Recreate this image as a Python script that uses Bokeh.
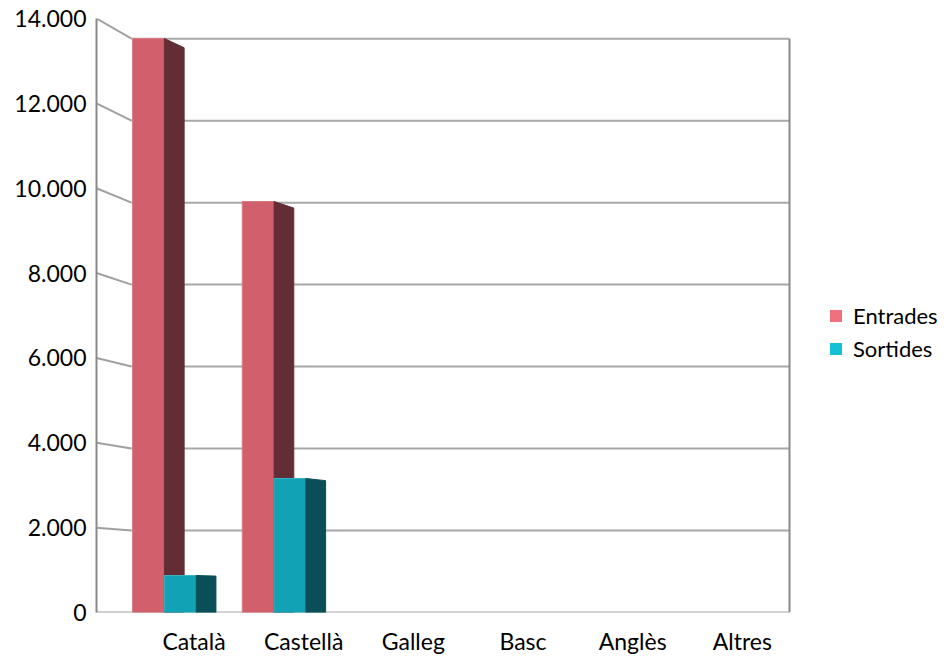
from bokeh.plotting import figure
from bokeh.models import Range1d, FixedTicker, Legend, LegendItem, ColumnDataSource, LinearAxis
from bokeh.embed import file_html
from bokeh.resources import INLINE

categories = ["Català", "Castellà", "Galleg", "Basc", "Anglès", "Altres"]
entrades = [13860, 9925, 0, 0, 0, 0]
sortides = [893, 3236, 0, 0, 0, 0]
y_ticks = [0, 2000, 4000, 6000, 8000, 10000, 12000, 14000]
y_tick_labels = ["0", "2.000", "4.000", "6.000", "8.000", "10.000", "12.000", "14.000"]

FONT = "Lato"
BACK = 0.966     # back-wall perspective factor
BARF = 0.976     # bar front-face perspective factor
SIDE = 0.984     # bar side depth factor
XL = -0.319
n = len(categories)

p = figure(width=950, height=658, output_backend="svg", toolbar_location=None,
           x_range=Range1d(XL, XL + 854 / 109.67), y_range=Range1d(0, 14000),
           min_border_left=96, min_border_top=18, min_border_bottom=46, min_border_right=0)
p.outline_line_color = None
p.grid.visible = False
p.xaxis.visible = False
p.yaxis.visible = False

ya = LinearAxis(ticker=FixedTicker(ticks=y_ticks),
                major_label_overrides={t: l for t, l in zip(y_ticks, y_tick_labels)})
ya.axis_line_color = "#8a8a8a"
ya.axis_line_width = 2
ya.major_tick_out = 0
ya.major_tick_in = 0
ya.minor_tick_out = 0
ya.minor_tick_in = 0
ya.major_label_standoff = 10
ya.major_label_text_font = FONT
ya.major_label_text_font_size = "23px"
ya.major_label_text_color = "#000000"
p.add_layout(ya, "left")

xa = LinearAxis(ticker=FixedTicker(ticks=[i + 0.57 for i in range(n)]),
                major_label_overrides={i + 0.57: c for i, c in enumerate(categories)})
xa.axis_line_color = None
xa.major_tick_out = 0
xa.major_tick_in = 0
xa.minor_tick_out = 0
xa.minor_tick_in = 0
xa.major_label_standoff = 14
xa.major_label_text_font = FONT
xa.major_label_text_font_size = "23px"
xa.major_label_text_color = "#000000"
p.add_layout(xa, "below")

# back wall gridlines
p.segment(x0=[0] * len(y_ticks), y0=[v * BACK for v in y_ticks],
          x1=[n] * len(y_ticks), y1=[v * BACK for v in y_ticks],
          line_color="#a8a8a8", line_width=2)
# side wall slanted lines
p.segment(x0=[XL] * len(y_ticks), y0=y_ticks,
          x1=[0] * len(y_ticks), y1=[v * BACK for v in y_ticks],
          line_color="#a0a0a0", line_width=2)
# right wall edge
p.segment(x0=[n], y0=[0], x1=[n], y1=[14000 * BACK], line_color="#8a8a8a", line_width=2)

def faces(vals, x_off):
    fx, fy, sx, sy = [], [], [], []
    for i, v in enumerate(vals):
        if v <= 0:
            continue
        x0 = i + x_off
        x1 = x0 + 0.29
        x2 = x1 + 0.18
        t = v * BARF
        fx.append([x0, x0, x1, x1]); fy.append([0, t, t, 0])
        sx.append([x1, x1, x2, x2]); sy.append([0, t, t * SIDE, 0])
    return fx, fy, sx, sy

efx, efy, esx, esy = faces(entrades, 0.01)
sfx, sfy, ssx, ssy = faces(sortides, 0.30)
p.patches(efx, efy, fill_color="#d1606c", line_color="#d87a84", line_width=1)
p.patches(esx, esy, fill_color="#632d35", line_color="#632d35", line_width=1)
p.patches(sfx, sfy, fill_color="#11a3b5", line_color="#3bb3c2", line_width=1)
p.patches(ssx, ssy, fill_color="#0a4f57", line_color="#0a4f57", line_width=1)

# zero-size quads used only to carry legend colours
dummy = ColumnDataSource(dict(left=[0], right=[0], top=[0], bottom=[0]))
r1 = p.quad(left="left", right="right", top="top", bottom="bottom", source=dummy,
            fill_color="#f0717d", line_color=None)
r2 = p.quad(left="left", right="right", top="top", bottom="bottom", source=dummy,
            fill_color="#14c0d3", line_color=None)
legend = Legend(items=[LegendItem(label="Entrades", renderers=[r1]),
                       LegendItem(label="Sortides", renderers=[r2])],
                location=(732, 250))
legend.border_line_color = None
legend.background_fill_alpha = 0
legend.margin = 0
legend.padding = 0
legend.glyph_width = 15
legend.glyph_height = 15
legend.label_standoff = 10
legend.label_height = 22
legend.spacing = 6
legend.label_text_font = FONT
legend.label_text_font_size = "22px"
legend.label_text_color = "#000000"
p.add_layout(legend, "center")

open("out.html", "w").write(file_html(p, INLINE))
